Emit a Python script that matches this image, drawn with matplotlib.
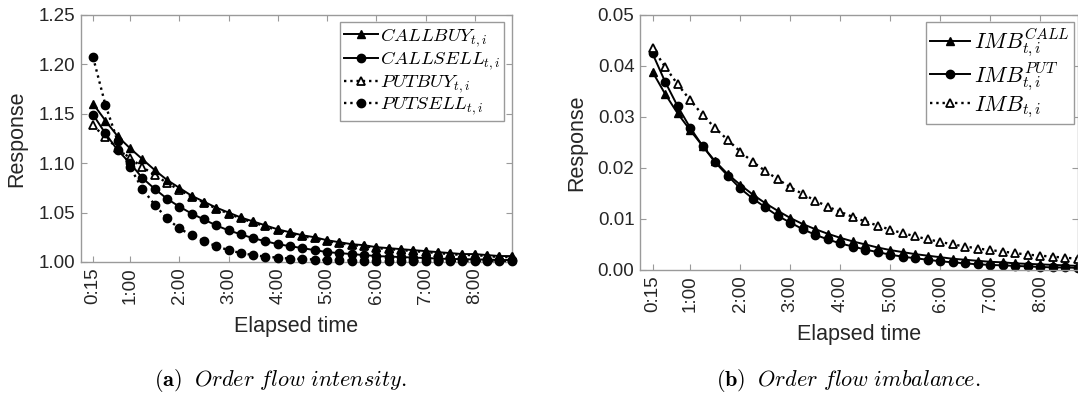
import matplotlib
matplotlib.use('Agg')
import matplotlib.pyplot as plt

# Elapsed time in minutes, one point every 15 minutes
elapsed = [15, 30, 45, 60, 75, 90, 105, 120, 135, 150, 165, 180, 195, 210, 225,
           240, 255, 270, 285, 300, 315, 330, 345, 360, 375, 390, 405, 420, 435,
           450, 465, 480, 495, 510, 525]
tick_pos = [15, 60, 120, 180, 240, 300, 360, 420, 480]
tick_labels = ['0:15', '1:00', '2:00', '3:00', '4:00', '5:00', '6:00', '7:00', '8:00']

# (a) order flow intensity
callbuy = [1.160, 1.143, 1.127, 1.115, 1.104, 1.093, 1.083, 1.075, 1.067, 1.061,
           1.055, 1.050, 1.045, 1.041, 1.037, 1.033, 1.030, 1.027, 1.025, 1.022,
           1.020, 1.018, 1.017, 1.015, 1.014, 1.013, 1.012, 1.011, 1.010, 1.009,
           1.008, 1.008, 1.007, 1.006, 1.006]
callsell = [1.149, 1.130, 1.113, 1.100, 1.085, 1.074, 1.064, 1.056, 1.049, 1.043,
            1.037, 1.032, 1.028, 1.024, 1.021, 1.018, 1.016, 1.014, 1.012, 1.010,
            1.009, 1.008, 1.007, 1.006, 1.0055, 1.005, 1.0045, 1.004, 1.0035, 1.003,
            1.003, 1.0025, 1.0025, 1.002, 1.002]
putbuy = [1.138, 1.126, 1.115, 1.105, 1.096, 1.088, 1.080, 1.073, 1.066, 1.060,
          1.054, 1.049, 1.044, 1.040, 1.036, 1.032, 1.029, 1.026, 1.024, 1.021,
          1.019, 1.017, 1.016, 1.014, 1.013, 1.012, 1.011, 1.010, 1.009, 1.008,
          1.007, 1.007, 1.006, 1.005, 1.005]
putsell = [1.207, 1.159, 1.122, 1.096, 1.074, 1.058, 1.044, 1.034, 1.027, 1.021,
           1.016, 1.012, 1.009, 1.007, 1.0054, 1.0044, 1.0034, 1.003, 1.0025, 1.002,
           1.002, 1.0015, 1.0015, 1.0012, 1.001, 1.001, 1.001, 1.001, 1.001, 1.001,
           1.001, 1.001, 1.001, 1.001, 1.001]

# (b) order flow imbalance
imb_call = [0.0388, 0.0345, 0.0307, 0.0274, 0.0243, 0.0213, 0.0188, 0.0167, 0.0148,
            0.0131, 0.0116, 0.0102, 0.0090, 0.0080, 0.0071, 0.0063, 0.0056, 0.0050,
            0.0044, 0.0039, 0.0035, 0.0031, 0.0028, 0.0025, 0.0022, 0.0020, 0.0018,
            0.0016, 0.0015, 0.0013, 0.0012, 0.0011, 0.0010, 0.0009, 0.0008]
imb_put = [0.0424, 0.0369, 0.0321, 0.0279, 0.0243, 0.0211, 0.0185, 0.0160, 0.0140,
           0.0123, 0.0106, 0.0093, 0.0080, 0.0069, 0.0060, 0.0052, 0.0046, 0.0040,
           0.0035, 0.0030, 0.0026, 0.0023, 0.0020, 0.0017, 0.0015, 0.0013, 0.0011,
           0.0010, 0.0009, 0.0008, 0.0007, 0.0006, 0.0005, 0.0005, 0.0004]
imb_all = [0.0435, 0.0398, 0.0364, 0.0333, 0.0304, 0.0278, 0.0255, 0.0232, 0.0212,
           0.0194, 0.0178, 0.0162, 0.0149, 0.0136, 0.0124, 0.0114, 0.0104, 0.0095,
           0.0087, 0.0079, 0.0072, 0.0066, 0.0060, 0.0055, 0.0050, 0.0046, 0.0042,
           0.0039, 0.0036, 0.0033, 0.0030, 0.0028, 0.0026, 0.0024, 0.0022]

plt.rcParams['font.family'] = ['Liberation Sans', 'DejaVu Sans']
plt.rcParams['mathtext.fontset'] = 'cm'

text_color = '#262626'
spine_color = '#9a9a9a'

fig = plt.figure(figsize=(10.78, 3.96), dpi=100)
ax_a = fig.add_axes([0.0749, 0.3384, 0.3998, 0.6245])
ax_b = fig.add_axes([0.5937, 0.3182, 0.4063, 0.6447])


def style_axes(ax, ylim, yticks, ylabels, xlabel_y, ylabel_x):
    #Axis limits and ticks
    ax.set_xlim(0, 525)
    ax.set_ylim(*ylim)
    ax.set_xticks(tick_pos)
    ax.set_xticklabels(tick_labels, rotation=90)
    ax.set_yticks(yticks)
    ax.set_yticklabels(ylabels)
    ax.tick_params(direction='in', top=True, right=True, length=4,
                   color=spine_color, labelcolor=text_color, labelsize=13.5, pad=4)
    for sp in ax.spines.values():
        sp.set_color(spine_color)
        sp.set_linewidth(1.0)
    #Axis labels
    ax.set_xlabel('Elapsed time', fontsize=15.5, color=text_color)
    ax.set_ylabel('Response', fontsize=15.5, color=text_color)
    ax.xaxis.set_label_coords(0.5, xlabel_y)
    ax.yaxis.set_label_coords(ylabel_x, 0.5)


ms = 6
#Left panel (filled triangles drawn above the open ones)
ax_a.plot(elapsed, callbuy, '-', color='black', lw=1.4, marker='^', ms=ms,
          mfc='black', mec='black', label=r'$CALLBUY_{t,i}$', clip_on=False, zorder=4)
ax_a.plot(elapsed, callsell, '-', color='black', lw=1.4, marker='o', ms=ms,
          mfc='black', mec='black', label=r'$CALLSELL_{t,i}$', clip_on=False, zorder=3)
ax_a.plot(elapsed, putbuy, ':', color='black', lw=1.7, marker='^', ms=ms,
          mfc='white', mec='black', mew=1.3, label=r'$PUTBUY_{t,i}$', clip_on=False,
          zorder=2)
ax_a.plot(elapsed, putsell, ':', color='black', lw=1.7, marker='o', ms=ms,
          mfc='black', mec='black', label=r'$PUTSELL_{t,i}$', clip_on=False, zorder=3)
style_axes(ax_a, (1.0, 1.25), [1.00, 1.05, 1.10, 1.15, 1.20, 1.25],
           ['1.00', '1.05', '1.10', '1.15', '1.20', '1.25'], -0.22, -0.125)

#Right panel
ax_b.plot(elapsed, imb_call, '-', color='black', lw=1.4, marker='^', ms=ms,
          mfc='black', mec='black', label=r'$IMB^{CALL}_{t,i}$', clip_on=False)
ax_b.plot(elapsed, imb_put, '-', color='black', lw=1.4, marker='o', ms=ms,
          mfc='black', mec='black', label=r'$IMB^{PUT}_{t,i}$', clip_on=False)
ax_b.plot(elapsed, imb_all, ':', color='black', lw=1.7, marker='^', ms=ms,
          mfc='white', mec='black', mew=1.3, label=r'$IMB_{t,i}$', clip_on=False)
style_axes(ax_b, (0.0, 0.05), [0.00, 0.01, 0.02, 0.03, 0.04, 0.05],
           ['0.00', '0.01', '0.02', '0.03', '0.04', '0.05'], -0.21, -0.121)

#Legends
for ax, anchor, size in [(ax_a, (0.983, 0.969), 13.5), (ax_b, (0.991, 0.971), 16)]:
    leg = ax.legend(loc='upper right', bbox_to_anchor=anchor, borderaxespad=0,
                    fontsize=size, fancybox=False, framealpha=1,
                    handlelength=1.8, handletextpad=0.15, labelspacing=0.05,
                    borderpad=0.2)
    leg.get_frame().set_edgecolor(spine_color)
    leg.get_frame().set_linewidth(1.0)
    leg.set_zorder(10)

#Captions
fig.text(280 / 1078, 1 - 380 / 396,
         r'$\mathbf{(a)}$  $\mathit{Order\ flow\ intensity.}$',
         ha='center', va='center', fontsize=16)
fig.text(848 / 1078, 1 - 380 / 396,
         r'$\mathbf{(b)}$  $\mathit{Order\ flow\ imbalance.}$',
         ha='center', va='center', fontsize=16)

plt.savefig('out.png', dpi=100)
